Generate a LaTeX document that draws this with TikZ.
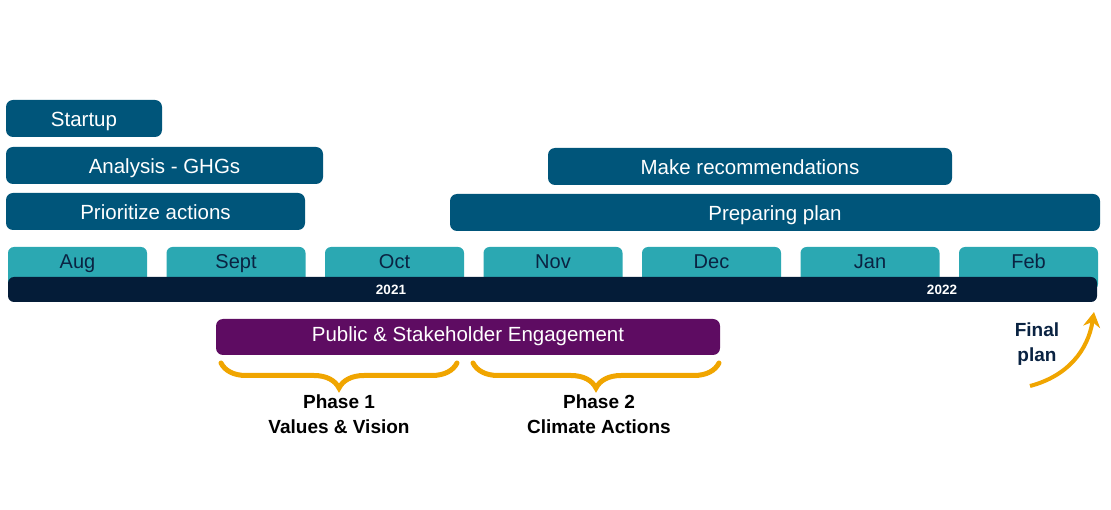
\documentclass[tikz,border=0pt]{standalone}
\usepackage{fontspec}
\setmainfont{Liberation Sans}
\usepackage{tikz}
\usetikzlibrary{arrows.meta,positioning,calc,decorations.pathreplacing}
\usepackage{xcolor}
\definecolor{tlblue}{RGB}{0,85,122}
\definecolor{tlteal}{RGB}{43,168,178}
\definecolor{tlnavy}{RGB}{4,28,56}
\definecolor{tltext}{RGB}{10,35,66}
\definecolor{tlpurple}{RGB}{94,12,98}
\definecolor{tlorange}{RGB}{240,165,0}
\tikzstyle{taskbox} = [rectangle, rounded corners=7pt, minimum height=37pt, text height=17pt, text depth=0pt, inner sep=0pt, outer sep=0pt, text centered, fill=tlblue, text=white, font=\fontsize{20.5}{24}\selectfont]
\tikzstyle{monthtab} = [rectangle, rounded corners=6pt, minimum width=139pt, minimum height=43pt, text height=14pt, text depth=14pt, inner sep=0pt, outer sep=0pt, fill=tlteal, text=tltext, font=\fontsize{20}{24}\selectfont]
\tikzstyle{yearbar} = [rectangle, rounded corners=6pt, inner sep=0pt, outer sep=0pt, fill=tlnavy]
\tikzstyle{yearlabel} = [text=white, inner sep=0pt, font=\fontsize{13.5}{16}\selectfont\bfseries]
\tikzstyle{engagebox} = [rectangle, rounded corners=7pt, text height=15pt, text depth=5pt, inner sep=0pt, outer sep=0pt, text centered, fill=tlpurple, text=white, font=\fontsize{20.5}{24}\selectfont]
\tikzstyle{phasebrace} = [line width=5pt, line cap=round, color=tlorange, decorate, decoration={brace, mirror, amplitude=25pt}]
\tikzstyle{phaselabel} = [align=center, inner sep=0pt, font=\fontsize{19}{25}\selectfont\bfseries]
\tikzstyle{arrow} = [line width=4pt, color=tlorange, -{Stealth[length=15pt,width=17pt]}]

\begin{document}
\begin{tikzpicture}[x=1pt, y=-1pt]
\useasboundingbox (0,0) rectangle (1111,510);

% Tasks
\node[taskbox, minimum width=156pt, anchor=north west] (startup) at (6,100) {Startup};
\node[taskbox, minimum width=317pt, below=10pt of startup.south west, anchor=north west] (ghg) {Analysis - GHGs};
\node[taskbox, minimum width=299pt, below=9pt of ghg.south west, anchor=north west] (prioritize) {Prioritize actions};
\node[taskbox, minimum width=404pt, anchor=north west] (recommend) at (548,148) {Make recommendations};
\node[taskbox, minimum width=650pt, anchor=north west] (preparing) at (450,194) {Preparing plan};

% Months
\node[monthtab, anchor=north west] (aug) at (8,247) {Aug};
\node[monthtab, right=19.5pt of aug] (sept) {Sept};
\node[monthtab, right=19.5pt of sept] (oct) {Oct};
\node[monthtab, right=19.5pt of oct] (nov) {Nov};
\node[monthtab, right=19.5pt of nov] (dec) {Dec};
\node[monthtab, right=19.5pt of dec] (jan) {Jan};
\node[monthtab, right=19.5pt of jan] (feb) {Feb};

% Years
\node[yearbar, minimum width=1089pt, minimum height=25pt, anchor=north west] (bar) at (8,277) {};
\node[yearlabel] (y2021) at (391,289.5) {2021};
\node[yearlabel] (y2022) at (942,289.5) {2022};

% Engagement
\node[engagebox, minimum width=504pt, minimum height=36pt, anchor=north west] (engage) at (216,319) {Public \& Stakeholder Engagement};
\coordinate (brace1a) at (221,363);
\coordinate (brace1b) at (457,363);
\coordinate (brace2a) at (473,363);
\coordinate (brace2b) at (719,363);
\draw[phasebrace] (brace1a) -- (brace1b);
\draw[phasebrace] (brace2a) -- (brace2b);
\node[phaselabel] (phase1) at (339,414) {Phase 1\\Values \& Vision};
\node[phaselabel] (phase2) at (599,414) {Phase 2\\Climate Actions};

% Final plan
\node[phaselabel, text=tltext] (final) at (1037,344) {Final\\plan};
\coordinate (finalstart) at (1030,386);
\coordinate (finalend) at (1094,312);
\draw[arrow] (finalstart) .. controls (1068,376) and (1088,350) .. (finalend);
\end{tikzpicture}
\end{document}
